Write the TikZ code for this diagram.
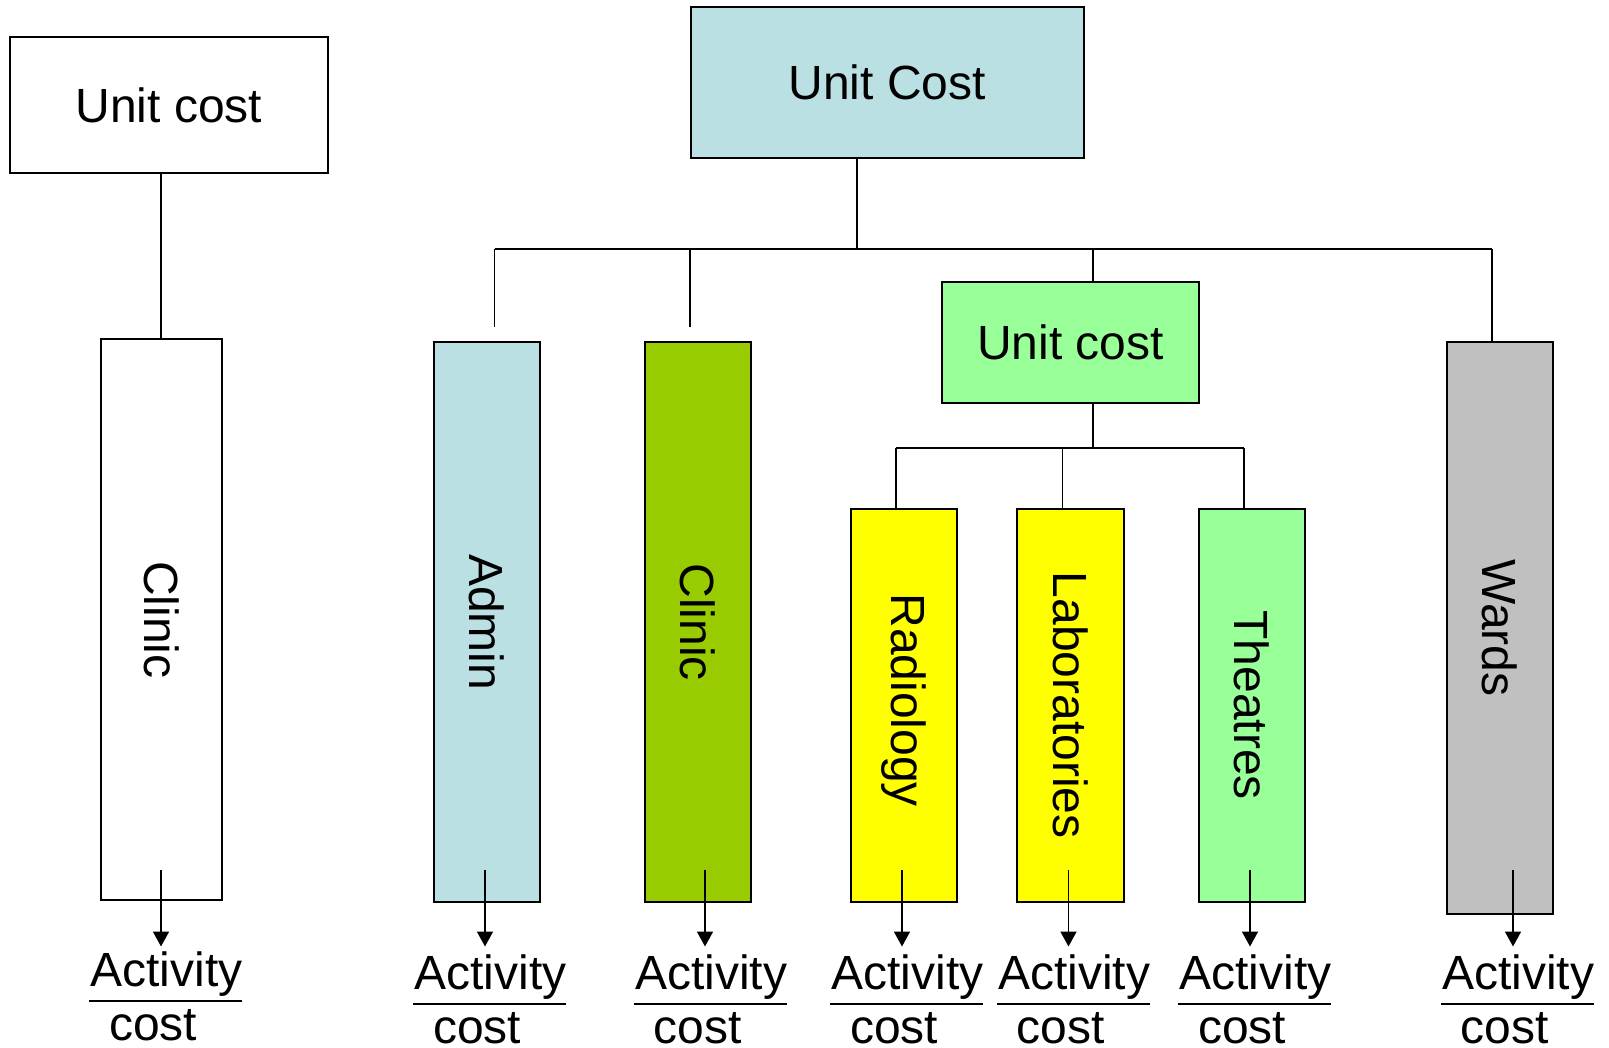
\documentclass[tikz,border=0pt]{standalone}
\usepackage{fontspec}
\setmainfont{Liberation Sans}
\usetikzlibrary{arrows.meta}
\definecolor{lblue}{RGB}{187,224,227}
\definecolor{olive}{RGB}{153,204,0}
\definecolor{lgreen}{RGB}{153,255,153}
\definecolor{yel}{RGB}{255,255,0}
\definecolor{gry}{RGB}{192,192,192}
\tikzset{
  box/.style={draw=black, line width=2pt, inner sep=0pt},
  txt/.style={font=\fontsize{48}{58}\selectfont, inner sep=0pt},
  conn/.style={line width=1.8pt},
  arr/.style={line width=1.8pt, -{Triangle[width=16pt,length=15pt]}},
  uline/.style={line width=2.2pt},
}
\newcommand{\actlabel}[3]{% name, left, underline y
  \node[txt, anchor=base west] (#1a) at (#2+1,#3-14) {Activity};
  \node[txt, anchor=base west] (#1c) at (#2+19.6,#3+39.3) {cost};
  \coordinate (#1l) at (#2,#3);
  \coordinate (#1r) at (#2+152.5,#3);
  \draw[uline] (#1l) -- (#1r);
}
\begin{document}
\begin{tikzpicture}[x=1pt,y=-1pt]
\useasboundingbox[fill=white] (0,0) rectangle (1609,1048);

% boxes
\node[box, fill=white, minimum width=318pt, minimum height=135.5pt] (uc1) at (169,105.25) {};
\node[txt] (uc1t) at (uc1.center) {Unit cost};
\node[box, fill=white, minimum width=121.5pt, minimum height=560.5pt] (cl1) at (161.25,619.75) {};
\node[txt, rotate=-90] (cl1t) at (cl1.center) {Clinic};

\node[box, fill=lblue, minimum width=393pt, minimum height=151.3pt] (ucT) at (887.1,82.65) {};
\node[txt] (ucTt) at (ucT.center) {Unit Cost};

\node[box, fill=lblue, minimum width=106pt, minimum height=559.5pt] (adm) at (487,622.25) {};
\node[txt, rotate=-90] (admt) at (adm.center) {Admin};
\node[box, fill=olive, minimum width=106.5pt, minimum height=559.5pt] (cl2) at (697.75,622.25) {};
\node[txt, rotate=-90] (cl2t) at (cl2.center) {Clinic};

\node[box, fill=lgreen, minimum width=257pt, minimum height=120.7pt] (ucG) at (1070.5,342.35) {};
\node[txt] (ucGt) at (ucG.center) {Unit cost};

\node[box, fill=yel, minimum width=106.3pt, minimum height=393.5pt] (rad) at (903.85,705.25) {};
\node[txt, rotate=-90] (radt) at ([yshift=5pt]rad.center) {Radiology};
\node[box, fill=yel, minimum width=106.2pt, minimum height=393.5pt] (lab) at (1070.4,705.25) {};
\node[txt, rotate=-90] (labt) at (lab.center) {Laboratories};
\node[box, fill=lgreen, minimum width=106.3pt, minimum height=393.5pt] (the) at (1251.85,705.25) {};
\node[txt, rotate=-90] (thet) at (the.center) {Theatres};

\node[box, fill=gry, minimum width=106pt, minimum height=571.7pt] (war) at (1499.7,628.15) {};
\node[txt, rotate=-90] (wart) at (war.center) {Wards};

% tree connectors
\draw[conn] (cl1.north |- uc1.south) -- (cl1.north);

\coordinate (barM) at (857,248.7);
\coordinate (barL) at (494.5,248.7);
\coordinate (barR) at (1492,248.7);
\draw[conn] (barM |- ucT.south) -- (barM);
\draw[conn] (barL) -- (barR);
\coordinate (admD) at (494.5,327.5);
\draw[conn] (barL) -- (admD);
\coordinate (cl2U) at (690,248.7);
\coordinate (cl2D) at (690,327.5);
\draw[conn] (cl2U) -- (cl2D);
\coordinate (gU) at (1093,248.7);
\draw[conn] (gU) -- (gU |- ucG.north);
\draw[conn] (barR) -- (barR |- war.north);

\coordinate (sM) at (1093,448.3);
\coordinate (sL) at (895.7,448.3);
\coordinate (sC) at (1062.5,448.3);
\coordinate (sR) at (1244,448.3);
\draw[conn] (sM |- ucG.south) -- (sM);
\draw[conn] (sL) -- (sR);
\draw[conn] (sL) -- (sL |- rad.north);
\draw[conn] (sC) -- (sC |- lab.north);
\draw[conn] (sR) -- (sR |- the.north);

% arrows
\foreach \n/\x in {cl1/161, adm/485, cl2/705, rad/902, lab/1068.5, the/1250, war/1513}{
  \coordinate (\n S) at (\x,870);
  \coordinate (\n E) at (\x,946.5);
  \draw[arr] (\n S) -- (\n E);
}

% labels
\actlabel{Lcl1}{89.3}{1000.7}
\actlabel{Ladm}{413.3}{1003.7}
\actlabel{Lcl2}{634}{1003.7}
\actlabel{Lrad}{830.3}{1003.7}
\actlabel{Llab}{997}{1003.7}
\actlabel{Lthe}{1178.2}{1003.7}
\actlabel{Lwar}{1441}{1003.7}
\end{tikzpicture}
\end{document}
